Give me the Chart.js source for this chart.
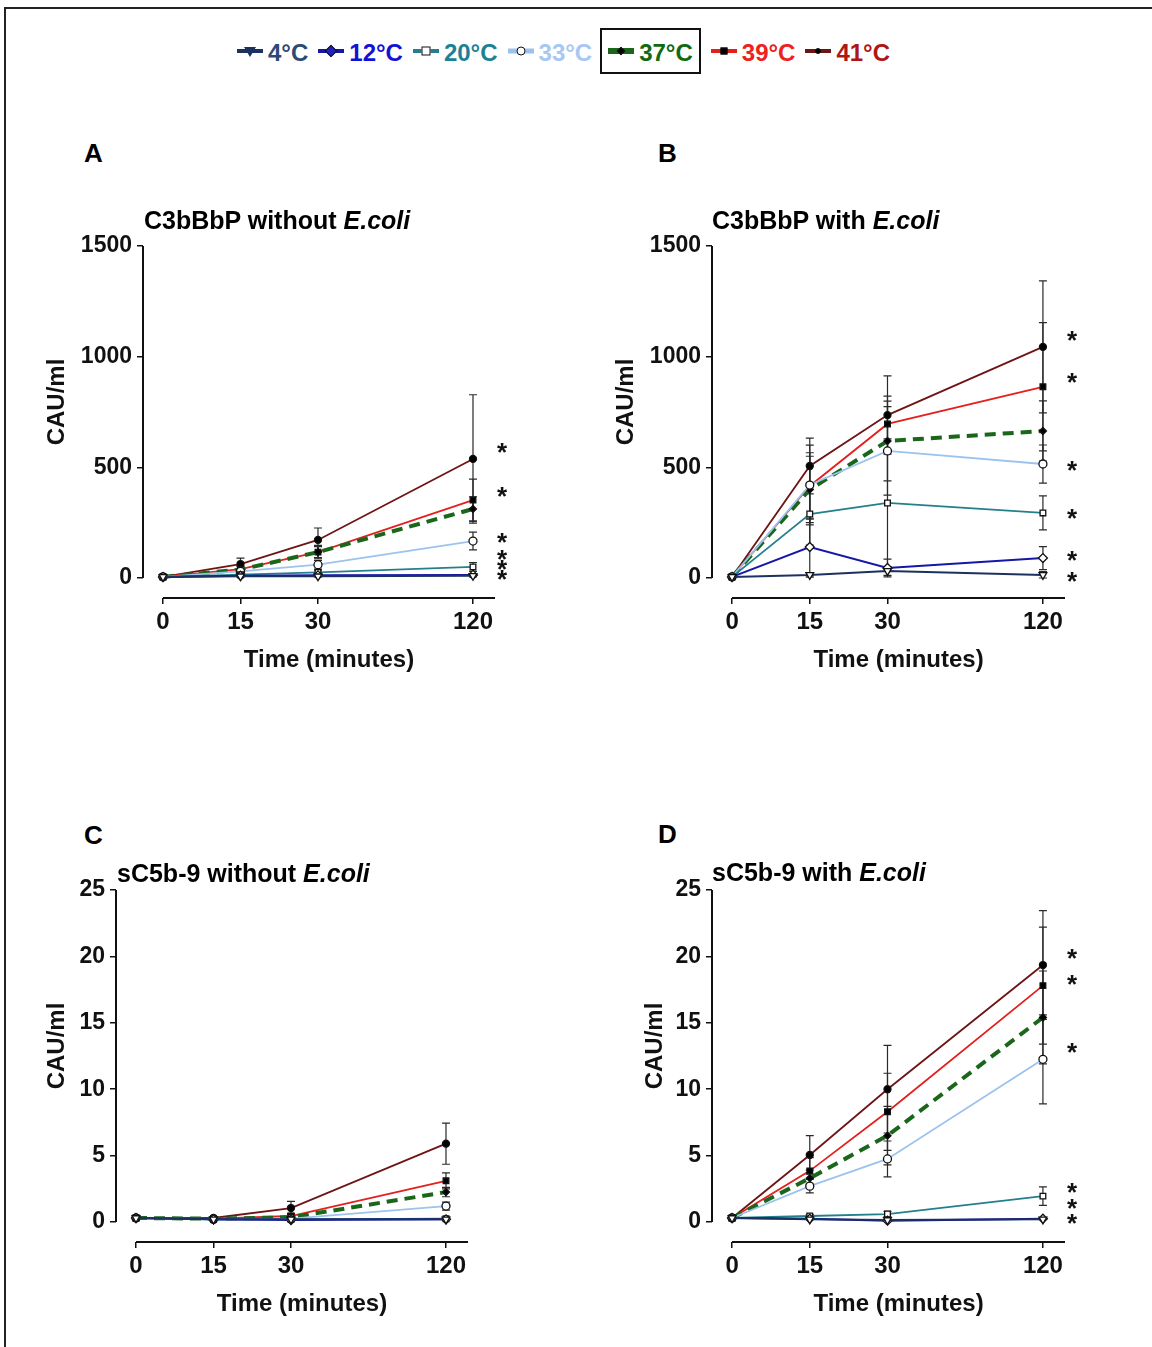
<!DOCTYPE html>
<html>
<head>
<meta charset="utf-8">
<script src="https://cdn.jsdelivr.net/npm/chart.js@4.4.0/dist/chart.umd.min.js"></script>
<style>
  body { margin: 0; background: #fff; font-family: "Liberation Sans", Arial, sans-serif; }
  #page { position: relative; width: 1152px; height: 1347px; overflow: hidden; background: #fff; }
  #frame { position: absolute; left: 4px; top: 7px; width: 1200px; height: 1400px; border: 2px solid #222; }
  canvas { position: absolute; }
  .letter { position: absolute; font-weight: bold; font-size: 26px; line-height: 26px; }
  .ptitle { position: absolute; font-weight: bold; font-size: 25px; line-height: 25px; white-space: nowrap; z-index: 2; }
  #legend { position: absolute; left: 237px; top: 28px; height: 46px; display: flex; align-items: center; }
  .item { display: flex; align-items: center; height: 42px; margin-right: 10px; }
  .item.boxed { border: 2px solid #111; padding: 0 6px 0 6px; margin-left: -2px; }
  .sample { position: relative; width: 26px; height: 20px; }
  .line { position: absolute; left: 0; right: 0; top: 50%; transform: translateY(-50%); }
  .txt { position: relative; top: 2px; font-weight: bold; font-size: 24px; margin-left: 5px; white-space: nowrap; }
  .mk { position: absolute; left: 50%; top: 50%; transform: translate(-50%, -50%); box-sizing: border-box; }
  .mk.circle { border-radius: 50%; }
  .mk.diamond { transform: translate(-50%, -50%) rotate(45deg); }
  .mk.tri { width: 0; height: 0; border-left: 6px solid transparent; border-right: 6px solid transparent; border-top: 10px solid #1d3160; transform: translate(-50%, -40%); }
</style>
</head>
<body>
<div id="page">
  <div id="frame"></div>
  <div id="legend"></div>

  <div class="letter" style="left:84px; top:140px;">A</div>
  <div class="letter" style="left:658px; top:140px;">B</div>
  <div class="letter" style="left:84px; top:822px;">C</div>
  <div class="letter" style="left:658px; top:821px;">D</div>

  <div class="ptitle" style="left:144px; top:208px;">C3bBbP without <i>E.coli</i></div>
  <div class="ptitle" style="left:712px; top:208px;">C3bBbP with <i>E.coli</i></div>
  <div class="ptitle" style="left:117px; top:861px;">sC5b-9 without <i>E.coli</i></div>
  <div class="ptitle" style="left:712px; top:860px;">sC5b-9 with <i>E.coli</i></div>

  <canvas id="chartA" width="492" height="452" style="left:33px; top:226px;"></canvas>
  <canvas id="chartB" width="493" height="452" style="left:602px; top:226px;"></canvas>
  <canvas id="chartC" width="492" height="452" style="left:6px; top:870px;"></canvas>
  <canvas id="chartD" width="493" height="452" style="left:602px; top:870px;"></canvas>
</div>

<script>
// ---- data ----
const timeLabels = ['0', '15', '30', '120'];
const timeSlots = [0, 1, 2, 4];   // 120 min sits two slots after 30, like the original axis
const seriesNames = ['4°C', '12°C', '20°C', '33°C', '37°C', '39°C', '41°C'];

// C3bBbP without E.coli (CAU/ml), one row per temperature
const aMean = [
  [5, 8, 8, 10],
  [5, 10, 12, 14],
  [5, 15, 25, 50],
  [5, 30, 60, 167],
  [5, 38, 117, 312],
  [5, 40, 117, 352],
  [5, 63, 172, 538]
];
const aSd = [
  [0, 3, 3, 5],
  [0, 4, 5, 5],
  [0, 5, 10, 20],
  [0, 10, 20, 40],
  [0, 12, 25, 55],
  [0, 15, 30, 95],
  [0, 27, 54, 290]
];
const aStars = [592, 393, 185, 108, 63, 18];

// C3bBbP with E.coli
const bMean = [
  [5, 14, 32, 14],
  [5, 140, 45, 90],
  [5, 289, 339, 294],
  [5, 420, 574, 515],
  [5, 400, 619, 664],
  [5, 416, 696, 864],
  [5, 506, 736, 1044]
];
const bSd = [
  [0, 10, 20, 15],
  [0, 130, 40, 52],
  [0, 140, 290, 77],
  [0, 180, 200, 86],
  [0, 150, 180, 136],
  [0, 150, 126, 290],
  [0, 126, 177, 298]
];
const bStars = [1098, 908, 511, 294, 104, 9];

// sC5b-9 without E.coli
const cMean = [
  [0.3, 0.2, 0.2, 0.2],
  [0.3, 0.2, 0.15, 0.2],
  [0.3, 0.2, 0.2, 0.25],
  [0.3, 0.2, 0.25, 1.2],
  [0.3, 0.25, 0.35, 2.25],
  [0.3, 0.25, 0.45, 3.1],
  [0.3, 0.3, 1.05, 5.9]
];
const cSd = [
  [0, 0, 0, 0],
  [0, 0, 0, 0],
  [0, 0.05, 0.05, 0.1],
  [0, 0.05, 0.1, 0.3],
  [0, 0.1, 0.15, 0.35],
  [0, 0.1, 0.2, 0.6],
  [0, 0.1, 0.5, 1.55]
];
const cStars = [];

// sC5b-9 with E.coli
const dMean = [
  [0.3, 0.2, 0.15, 0.2],
  [0.3, 0.25, 0.1, 0.25],
  [0.3, 0.45, 0.6, 1.95],
  [0.3, 2.7, 4.75, 12.25],
  [0.3, 3.3, 6.5, 15.4],
  [0.3, 3.85, 8.3, 17.8],
  [0.3, 5.05, 10.0, 19.35]
];
const dSd = [
  [0, 0, 0, 0],
  [0, 0, 0, 0],
  [0, 0.1, 0.2, 0.7],
  [0, 0.5, 1.35, 3.35],
  [0, 0.6, 2.2, 3.5],
  [0, 1.0, 2.9, 4.4],
  [0, 1.45, 3.3, 4.1]
];
const dStars = [20.26, 18.3, 13.18, 2.64, 1.43, 0.3];

const c3Ticks = [0, 500, 1000, 1500];
const c5Ticks = [0, 5, 10, 15, 20, 25];

// ---- styles ----
const lineColors = ['#1d3160', '#1616a8', '#22808c', '#9cc3ee', '#1a661a', '#e3201e', '#6e1414'];
const textColors = ['#2c4a78', '#1212d6', '#1b8296', '#a6c8f2', '#106a10', '#ee2020', '#b01515'];
const lineWidths = [2, 2, 1.8, 1.8, 4, 1.8, 1.8];
const pointStyles = ['triangle', 'rectRot', 'rect', 'circle', 'rectRot', 'rect', 'circle'];
const pointRot = [180, 0, 0, 0, 0, 0, 0];
const pointFill = ['#fff', '#fff', '#fff', '#fff', '#000', '#000', '#000'];
const pointSize = [4.5, 4.5, 4, 4, 3.5, 4, 3.5];

const legendLine = [4, 4, 4, 5, 6, 4, 4];
const legendMark = [
  {cls: 'tri'},
  {cls: 'diamond', size: 9, fill: '#2020c0'},
  {cls: 'rect', size: 9, fill: '#fff'},
  {cls: 'circle', size: 9, fill: '#fff'},
  {cls: 'diamond', size: 6, fill: '#000'},
  {cls: 'rect', size: 7, fill: '#000'},
  {cls: 'circle', size: 6, fill: '#000'}
];

const fontFam = '"Liberation Sans", Arial, sans-serif';

// legend
const legend = document.getElementById('legend');
seriesNames.forEach((name, k) => {
  const item = document.createElement('div');
  item.className = 'item' + (k === 4 ? ' boxed' : '');
  const sample = document.createElement('span');
  sample.className = 'sample';
  const line = document.createElement('span');
  line.className = 'line';
  line.style.background = lineColors[k];
  line.style.height = legendLine[k] + 'px';
  sample.appendChild(line);
  const m = legendMark[k];
  const mk = document.createElement('span');
  mk.className = 'mk ' + m.cls;
  if (m.cls != 'tri') {
    mk.style.width = m.size + 'px';
    mk.style.height = m.size + 'px';
    mk.style.background = m.fill;
    mk.style.border = '1.5px solid #111';
  }
  sample.appendChild(mk);
  item.appendChild(sample);
  const txt = document.createElement('span');
  txt.className = 'txt';
  txt.style.color = textColors[k];
  txt.textContent = name;
  item.appendChild(txt);
  legend.appendChild(item);
});

// axes, error bars, titles and asterisks the Prism way
const prismPlugin = {
  id: 'prism',
  beforeDatasetsDraw(chart) {
    const ctx = chart.ctx;
    const xs = chart.scales.x, ys = chart.scales.y;
    ctx.save();
    ctx.strokeStyle = '#2a2a2a';
    ctx.lineWidth = 1.2;
    chart.data.datasets.forEach(ds => {
      ds.sd.forEach((s, i) => {
        if (!s) return;
        const p = ds.data[i];
        const px = xs.getPixelForValue(p.x);
        const top = ys.getPixelForValue(p.y + s);
        const bot = ys.getPixelForValue(Math.max(p.y - s, 0));
        ctx.beginPath();
        ctx.moveTo(px, top); ctx.lineTo(px, bot);
        ctx.moveTo(px - 4, top); ctx.lineTo(px + 4, top);
        ctx.moveTo(px - 4, bot); ctx.lineTo(px + 4, bot);
        ctx.stroke();
      });
    });
    ctx.restore();
  },
  afterDraw(chart, args, opts) {
    const ctx = chart.ctx;
    const area = chart.chartArea;
    const xs = chart.scales.x, ys = chart.scales.y;
    const y0 = ys.getPixelForValue(0);
    const yTop = ys.getPixelForValue(ys.max);
    const x0 = xs.getPixelForValue(0);
    ctx.save();
    ctx.strokeStyle = '#111';
    ctx.lineWidth = 2;
    ctx.beginPath();
    ctx.moveTo(area.left, yTop); ctx.lineTo(area.left, y0);
    ctx.moveTo(x0, area.bottom); ctx.lineTo(area.right, area.bottom);
    ctx.stroke();

    ctx.fillStyle = '#111';
    ctx.font = 'bold 24px ' + fontFam;
    ctx.textAlign = 'center';
    ctx.textBaseline = 'middle';
    ctx.fillText('Time (minutes)', (x0 + area.right) / 2, area.bottom + 62);

    ctx.save();
    ctx.translate(area.left - opts.yTitleGap, (yTop + y0) / 2 - 10);
    ctx.rotate(-Math.PI / 2);
    ctx.fillText('CAU/ml', 0, 0);
    ctx.restore();

    ctx.font = 'bold 26px ' + fontFam;
    ctx.textBaseline = 'alphabetic';
    opts.stars.forEach(v => {
      ctx.fillText('*', area.right + 7, ys.getPixelForValue(v) + 14);
    });
    ctx.restore();
  }
};

function makePanel(canvasId, means, sds, yTicks, stars, yTitleGap) {
  const yMax = yTicks[yTicks.length - 1];
  const datasets = seriesNames.map((name, k) => ({
    label: name,
    data: timeSlots.map((s, i) => ({x: s, y: means[k][i]})),
    sd: sds[k],
    borderColor: lineColors[k],
    borderWidth: lineWidths[k],
    borderDash: k === 4 ? [11, 7] : [],
    pointStyle: pointStyles[k],
    pointRotation: pointRot[k],
    pointRadius: pointSize[k],
    pointBackgroundColor: pointFill[k],
    pointBorderColor: '#111',
    pointBorderWidth: 1.3,
    tension: 0,
    fill: false
  }));

  return new Chart(document.getElementById(canvasId), {
    type: 'line',
    data: {datasets: datasets},
    options: {
      responsive: false,
      animation: false,
      layout: {padding: {top: 20, left: 0, right: 30, bottom: 0}},
      plugins: {
        legend: {display: false},
        tooltip: {enabled: false},
        prism: {stars: stars, yTitleGap: yTitleGap}
      },
      scales: {
        x: {
          type: 'linear',
          min: -0.258,
          max: 4.284,
          afterBuildTicks: s => { s.ticks = timeSlots.map(v => ({value: v})); },
          afterFit: s => { s.height = 80; },
          ticks: {
            callback: (v, i) => timeLabels[i],
            font: {family: fontFam, size: 24, weight: 'bold'},
            color: '#111',
            padding: 4,
            autoSkip: false,
            maxRotation: 0
          },
          grid: {drawOnChartArea: false, drawTicks: true, tickLength: 6, color: '#111', lineWidth: 1.5},
          border: {display: false}
        },
        y: {
          type: 'linear',
          min: -yMax * 20 / 332,
          max: yMax,
          afterBuildTicks: s => { s.ticks = yTicks.map(v => ({value: v})); },
          afterFit: s => { s.width = 110; },
          ticks: {
            callback: v => String(v),
            font: {family: fontFam, size: 23, weight: 'bold'},
            color: '#111',
            padding: 5
          },
          grid: {drawOnChartArea: false, drawTicks: true, tickLength: 6, color: '#111', lineWidth: 1.5},
          border: {display: false}
        }
      }
    },
    plugins: [prismPlugin]
  });
}

makePanel('chartA', aMean, aSd, c3Ticks, aStars, 86);
makePanel('chartB', bMean, bSd, c3Ticks, bStars, 86);
makePanel('chartC', cMean, cSd, c5Ticks, cStars, 59);
makePanel('chartD', dMean, dSd, c5Ticks, dStars, 57);
</script>
</body>
</html>
